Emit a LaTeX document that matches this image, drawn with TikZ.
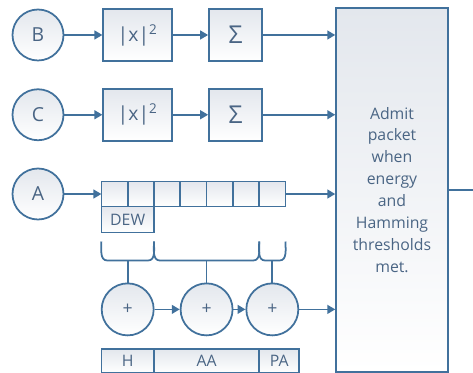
\documentclass[tikz,border=0pt]{standalone}
\usepackage{fontspec}
\setmainfont{Open Sans}
\usepackage{tikz}
\usetikzlibrary{arrows.meta, positioning}
\definecolor{linecol}{HTML}{41719C}
\definecolor{textcol}{HTML}{4A6584}
\definecolor{boxtop}{HTML}{E3E7ED}

\begin{document}
\begin{tikzpicture}[
  every node/.style={text=textcol, font=\fontsize{9}{12.5}\selectfont},
  io/.style={draw=linecol, line width=1pt, circle, minimum size=1.02cm, inner sep=0pt, top color=boxtop, bottom color=white, font=\fontsize{11}{13}\selectfont},
  adder/.style={io, minimum size=1.04cm, font=\fontsize{10}{12}\selectfont},
  sqbox/.style={draw=linecol, line width=1pt, minimum width=1.38cm, minimum height=1.04cm, inner sep=0pt, top color=boxtop, bottom color=white, font=\fontsize{11}{13}\selectfont},
  sumbox/.style={sqbox, minimum width=1.06cm, font=\fontsize{14}{16}\selectfont},
  cell/.style={draw=linecol, line width=1pt, minimum width=0.526cm, minimum height=0.5cm, inner sep=0pt, outer sep=0pt, top color=boxtop, bottom color=white},
  gatebox/.style={draw=linecol, line width=1pt, minimum width=2.2cm, minimum height=7.28cm, text width=2cm, align=center, top color=boxtop, bottom color=white},
  arrow/.style={-{Triangle[length=4.5pt, width=5pt]}, draw=linecol, line width=1pt},
  line/.style={draw=linecol, line width=1pt},
  brace/.style={draw=linecol, line width=1pt}
]
  \useasboundingbox (0,0) rectangle (9.46,-7.46);

  \node[io] (B) at (0.76,-0.70) {B};
  \node[sqbox, right=0.76cm of B] (sqB) {|x|\textsuperscript{2}};
  \node[sumbox, right=0.7cm of sqB] (sumB) {Σ};

  \node[io, below=0.54cm of B] (C) {C};
  \node[sqbox, right=0.76cm of C] (sqC) {|x|\textsuperscript{2}};
  \node[sumbox, right=0.7cm of sqC] (sumC) {Σ};

  \node[io, below=0.53cm of C] (A) {A};
  \node[cell, right=0.74cm of A] (r1) {};
  \foreach \i [remember=\i as \j (initially 1)] in {2,...,7}
    \node[cell, right=0pt of r\j] (r\i) {};
  \node[cell, minimum width=1.052cm, minimum height=0.52cm, anchor=north west] (dew) at (r1.south west) {DEW};

  \node[gatebox] (gate) at (7.84,-3.8) {Admit\\packet\\when\\energy\\and\\Hamming\\thresholds\\met.};
  \coordinate (out) at (9.46,0);

  \coordinate (k1) at ([yshift=-0.7cm]r1.south west);
  \coordinate (k2) at ([yshift=-0.7cm]r2.south east);
  \coordinate (k3) at ([yshift=-0.7cm]r6.south east);
  \coordinate (k4) at ([yshift=-0.7cm]r7.south east);
  \foreach \a/\b in {k1/k2, k2/k3, k3/k4}
    \draw[brace] (\a) to[out=-90, in=180] ++(0.12,-0.38) -- ([xshift=-0.12cm, yshift=-0.38cm]\b) to[out=0, in=-90] (\b);

  \node[adder, below=1.0cm of dew] (s1) {+};
  \node[adder] (s2) at (r4.east |- s1) {+};
  \node[adder] (s3) at (r7 |- s1) {+};

  \coordinate (m1) at ([yshift=-0.38cm]s1 |- k1);
  \coordinate (m2) at ([yshift=-0.38cm]s2 |- k1);
  \coordinate (m3) at ([yshift=-0.38cm]s3 |- k1);
  \draw[line] (m1) -- (s1);
  \draw[line] (m2) -- (s2);
  \draw[line] (m3) -- (s3);

  \coordinate (bar) at ([yshift=-0.26cm]s1.south);
  \node[cell, minimum width=1.052cm, minimum height=0.48cm, anchor=north west] (h) at (r1.west |- bar) {H};
  \node[cell, minimum width=2.104cm, minimum height=0.48cm, anchor=north west] (aa) at (h.north east) {AA};
  \node[cell, minimum width=0.8cm, minimum height=0.48cm, anchor=north west] (pa) at (aa.north east) {PA};

  \draw[arrow] (B) -- (sqB);
  \draw[arrow] (sqB) -- (sumB);
  \draw[arrow] (sumB) -- (sumB -| gate.west);
  \draw[arrow] (C) -- (sqC);
  \draw[arrow] (sqC) -- (sumC);
  \draw[arrow] (sumC) -- (sumC -| gate.west);
  \draw[arrow] (A) -- (r1);
  \draw[arrow] (r7) -- (r7 -| gate.west);
  \draw[arrow] (s1) -- (s2);
  \draw[arrow] (s2) -- (s3);
  \draw[arrow] (s3) -- (s3 -| gate.west);
  \draw[line] (gate.east) -- (gate.east -| out);
\end{tikzpicture}
\end{document}
